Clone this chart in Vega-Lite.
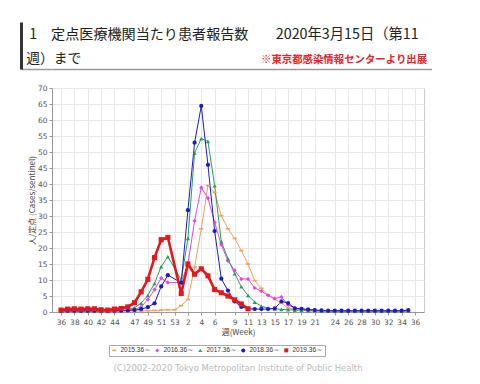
{
  "$schema": "https://vega.github.io/schema/vega-lite/v6.json",
  "background": "white",
  "padding": {"left": 20, "top": 22, "right": 0, "bottom": 0},
  "spacing": 19,
  "bounds": "flush",
  "config": {
    "font": "Noto Sans CJK JP",
    "view": {"stroke": null},
    "axis": {"labelFontSize": 7.5, "labelColor": "#555555", "labelFont": "DejaVu Sans", "labelOverlap": false, "labelFlush": false, "tickCount": 100, "tickColor": "#999999", "tickSize": 3, "domainColor": "#999999", "gridColor": "#e8e8e8", "titleFontSize": 8, "titleFontWeight": "normal", "titleColor": "#444444", "titleFont": "Noto Sans CJK JP"}
  },
  "vconcat": [
    {
      "width": 380,
      "height": 47,
      "view": {"stroke": null},
      "data": {"values": [{"header": 1}]},
      "layer": [
        {
          "mark": {"type": "text", "text": "1　定点医療機関当たり患者報告数", "align": "left", "baseline": "middle", "fontSize": 14.1, "color": "#222222"},
          "encoding": {
            "x": {"datum": -0.06, "type": "quantitative", "scale": {"domain": [0, 1], "nice": false, "zero": false}, "axis": {"domain": true, "domainColor": "#9a9a9a", "domainWidth": 1.5, "ticks": false, "labels": false, "grid": false, "title": null}},
            "y": {"datum": 0.72, "type": "quantitative", "scale": {"domain": [0, 1], "nice": false, "zero": false}, "axis": {"domain": true, "domainColor": "#333333", "domainWidth": 3, "offset": 31, "values": [0], "ticks": true, "tickSize": -31, "tickWidth": 1.5, "tickColor": "#9a9a9a", "labels": false, "grid": false, "title": null}}
          }
        },
        {
          "mark": {"type": "text", "text": "2020年3月15日（第11", "align": "left", "baseline": "middle", "fontSize": 14.3, "color": "#222222"},
          "encoding": {"x": {"datum": 0.589, "type": "quantitative"}, "y": {"datum": 0.72, "type": "quantitative"}}
        },
        {
          "mark": {"type": "text", "text": "週）まで", "align": "left", "baseline": "middle", "fontSize": 13.8, "color": "#222222"},
          "encoding": {"x": {"datum": -0.068, "type": "quantitative"}, "y": {"datum": 0.22, "type": "quantitative"}}
        },
        {
          "mark": {"type": "text", "text": "※東京都感染情報センターより出展", "align": "right", "baseline": "middle", "fontSize": 10.4, "fontWeight": "bold", "color": "#e8232b"},
          "encoding": {"x": {"datum": 0.987, "type": "quantitative"}, "y": {"datum": 0.2, "type": "quantitative"}}
        }
      ]
    },
    {
      "width": 372,
      "height": 224,
      "view": {"stroke": "#cccccc"},
      "title": {"text": "(C)2002-2020 Tokyo Metropolitan Institute of Public Health", "orient": "bottom", "anchor": "middle", "fontSize": 8.5, "fontWeight": "normal", "color": "#bbbbbb", "font": "DejaVu Sans", "offset": 27},
      "data": {"values": [
        {"season":"2015.36～","idx":0,"val":0.2},{"season":"2015.36～","idx":1,"val":0.2},{"season":"2015.36～","idx":2,"val":0.2},{"season":"2015.36～","idx":3,"val":0.2},{"season":"2015.36～","idx":4,"val":0.2},{"season":"2015.36～","idx":5,"val":0.2},{"season":"2015.36～","idx":6,"val":0.2},{"season":"2015.36～","idx":7,"val":0.3},{"season":"2015.36～","idx":8,"val":0.3},{"season":"2015.36～","idx":9,"val":0.3},{"season":"2015.36～","idx":10,"val":0.3},{"season":"2015.36～","idx":11,"val":0.3},{"season":"2015.36～","idx":12,"val":0.3},{"season":"2015.36～","idx":13,"val":0.4},{"season":"2015.36～","idx":14,"val":0.5},{"season":"2015.36～","idx":15,"val":0.6},{"season":"2015.36～","idx":16,"val":0.7},{"season":"2015.36～","idx":17,"val":0.7},{"season":"2015.36～","idx":18,"val":2.0},{"season":"2015.36～","idx":19,"val":3.9},{"season":"2015.36～","idx":20,"val":14.0},{"season":"2015.36～","idx":21,"val":26.0},{"season":"2015.36～","idx":22,"val":39.5},{"season":"2015.36～","idx":23,"val":37.4},{"season":"2015.36～","idx":24,"val":30.1},{"season":"2015.36～","idx":25,"val":26.0},{"season":"2015.36～","idx":26,"val":23.0},{"season":"2015.36～","idx":27,"val":19.2},{"season":"2015.36～","idx":28,"val":15.0},{"season":"2015.36～","idx":29,"val":9.8},{"season":"2015.36～","idx":30,"val":7.4},{"season":"2015.36～","idx":31,"val":5.4},{"season":"2015.36～","idx":32,"val":4.0},{"season":"2015.36～","idx":33,"val":2.8},{"season":"2015.36～","idx":34,"val":1.2},{"season":"2015.36～","idx":35,"val":0.7},{"season":"2015.36～","idx":36,"val":0.5},{"season":"2015.36～","idx":37,"val":0.4},{"season":"2015.36～","idx":38,"val":0.3},{"season":"2015.36～","idx":39,"val":0.3},{"season":"2015.36～","idx":40,"val":0.3},{"season":"2015.36～","idx":41,"val":0.2},{"season":"2015.36～","idx":42,"val":0.2},{"season":"2015.36～","idx":43,"val":0.2},{"season":"2015.36～","idx":44,"val":0.2},{"season":"2015.36～","idx":45,"val":0.2},{"season":"2015.36～","idx":46,"val":0.2},{"season":"2015.36～","idx":47,"val":0.2},{"season":"2015.36～","idx":48,"val":0.2},{"season":"2015.36～","idx":49,"val":0.1},{"season":"2015.36～","idx":50,"val":0.1},{"season":"2015.36～","idx":51,"val":0.1},{"season":"2015.36～","idx":52,"val":0.1},
        {"season":"2016.36～","idx":0,"val":0.3},{"season":"2016.36～","idx":1,"val":0.3},{"season":"2016.36～","idx":2,"val":0.3},{"season":"2016.36～","idx":3,"val":0.3},{"season":"2016.36～","idx":4,"val":0.3},{"season":"2016.36～","idx":5,"val":0.3},{"season":"2016.36～","idx":6,"val":0.3},{"season":"2016.36～","idx":7,"val":0.3},{"season":"2016.36～","idx":8,"val":0.3},{"season":"2016.36～","idx":9,"val":0.4},{"season":"2016.36～","idx":10,"val":0.5},{"season":"2016.36～","idx":11,"val":0.8},{"season":"2016.36～","idx":12,"val":1.6},{"season":"2016.36～","idx":13,"val":3.9},{"season":"2016.36～","idx":14,"val":7.0},{"season":"2016.36～","idx":15,"val":10.6},{"season":"2016.36～","idx":16,"val":9.2},{"season":"2016.36～","idx":18,"val":9.2},{"season":"2016.36～","idx":19,"val":15.0},{"season":"2016.36～","idx":20,"val":28.5},{"season":"2016.36～","idx":21,"val":38.9},{"season":"2016.36～","idx":22,"val":35.6},{"season":"2016.36～","idx":23,"val":28.0},{"season":"2016.36～","idx":24,"val":21.0},{"season":"2016.36～","idx":25,"val":16.0},{"season":"2016.36～","idx":26,"val":13.0},{"season":"2016.36～","idx":27,"val":10.3},{"season":"2016.36～","idx":28,"val":10.3},{"season":"2016.36～","idx":29,"val":7.5},{"season":"2016.36～","idx":30,"val":6.5},{"season":"2016.36～","idx":31,"val":5.2},{"season":"2016.36～","idx":32,"val":4.2},{"season":"2016.36～","idx":33,"val":4.7},{"season":"2016.36～","idx":34,"val":2.2},{"season":"2016.36～","idx":35,"val":1.3},{"season":"2016.36～","idx":36,"val":0.9},{"season":"2016.36～","idx":37,"val":0.6},{"season":"2016.36～","idx":38,"val":0.5},{"season":"2016.36～","idx":39,"val":0.4},{"season":"2016.36～","idx":40,"val":0.3},{"season":"2016.36～","idx":41,"val":0.3},{"season":"2016.36～","idx":42,"val":0.3},{"season":"2016.36～","idx":43,"val":0.3},{"season":"2016.36～","idx":44,"val":0.3},{"season":"2016.36～","idx":45,"val":0.3},{"season":"2016.36～","idx":46,"val":0.3},{"season":"2016.36～","idx":47,"val":0.3},{"season":"2016.36～","idx":48,"val":0.3},{"season":"2016.36～","idx":49,"val":0.3},{"season":"2016.36～","idx":50,"val":0.3},{"season":"2016.36～","idx":51,"val":0.3},{"season":"2016.36～","idx":52,"val":0.3},
        {"season":"2017.36～","idx":0,"val":0.3},{"season":"2017.36～","idx":1,"val":0.3},{"season":"2017.36～","idx":2,"val":0.3},{"season":"2017.36～","idx":3,"val":0.3},{"season":"2017.36～","idx":4,"val":0.3},{"season":"2017.36～","idx":5,"val":0.3},{"season":"2017.36～","idx":6,"val":0.3},{"season":"2017.36～","idx":7,"val":0.4},{"season":"2017.36～","idx":8,"val":0.4},{"season":"2017.36～","idx":9,"val":0.5},{"season":"2017.36～","idx":10,"val":0.7},{"season":"2017.36～","idx":11,"val":1.3},{"season":"2017.36～","idx":12,"val":2.8},{"season":"2017.36～","idx":13,"val":5.2},{"season":"2017.36～","idx":14,"val":8.9},{"season":"2017.36～","idx":15,"val":14.2},{"season":"2017.36～","idx":16,"val":17.3},{"season":"2017.36～","idx":18,"val":10.0},{"season":"2017.36～","idx":19,"val":23.0},{"season":"2017.36～","idx":20,"val":49.7},{"season":"2017.36～","idx":21,"val":54.2},{"season":"2017.36～","idx":22,"val":53.3},{"season":"2017.36～","idx":23,"val":39.5},{"season":"2017.36～","idx":24,"val":22.0},{"season":"2017.36～","idx":25,"val":16.6},{"season":"2017.36～","idx":26,"val":12.0},{"season":"2017.36～","idx":27,"val":7.9},{"season":"2017.36～","idx":28,"val":5.2},{"season":"2017.36～","idx":29,"val":3.1},{"season":"2017.36～","idx":30,"val":1.8},{"season":"2017.36～","idx":31,"val":1.2},{"season":"2017.36～","idx":32,"val":1.0},{"season":"2017.36～","idx":33,"val":0.8},{"season":"2017.36～","idx":34,"val":0.7},{"season":"2017.36～","idx":35,"val":0.6},{"season":"2017.36～","idx":36,"val":0.5},{"season":"2017.36～","idx":37,"val":0.4},{"season":"2017.36～","idx":38,"val":0.4},{"season":"2017.36～","idx":39,"val":0.3},{"season":"2017.36～","idx":40,"val":0.3},{"season":"2017.36～","idx":41,"val":0.3},{"season":"2017.36～","idx":42,"val":0.3},{"season":"2017.36～","idx":43,"val":0.3},{"season":"2017.36～","idx":44,"val":0.3},{"season":"2017.36～","idx":45,"val":0.3},{"season":"2017.36～","idx":46,"val":0.3},{"season":"2017.36～","idx":47,"val":0.3},{"season":"2017.36～","idx":48,"val":0.3},{"season":"2017.36～","idx":49,"val":0.3},{"season":"2017.36～","idx":50,"val":0.3},{"season":"2017.36～","idx":51,"val":0.3},{"season":"2017.36～","idx":52,"val":0.3},
        {"season":"2018.36～","idx":0,"val":0.4},{"season":"2018.36～","idx":1,"val":0.4},{"season":"2018.36～","idx":2,"val":0.4},{"season":"2018.36～","idx":3,"val":0.4},{"season":"2018.36～","idx":4,"val":0.4},{"season":"2018.36～","idx":5,"val":0.4},{"season":"2018.36～","idx":6,"val":0.4},{"season":"2018.36～","idx":7,"val":0.4},{"season":"2018.36～","idx":8,"val":0.4},{"season":"2018.36～","idx":9,"val":0.4},{"season":"2018.36～","idx":10,"val":0.5},{"season":"2018.36～","idx":11,"val":0.6},{"season":"2018.36～","idx":12,"val":0.9},{"season":"2018.36～","idx":13,"val":1.5},{"season":"2018.36～","idx":14,"val":2.7},{"season":"2018.36～","idx":15,"val":8.0},{"season":"2018.36～","idx":16,"val":11.5},{"season":"2018.36～","idx":18,"val":9.2},{"season":"2018.36～","idx":19,"val":31.8},{"season":"2018.36～","idx":20,"val":52.9},{"season":"2018.36～","idx":21,"val":64.4},{"season":"2018.36～","idx":22,"val":46.0},{"season":"2018.36～","idx":23,"val":25.3},{"season":"2018.36～","idx":24,"val":10.4},{"season":"2018.36～","idx":25,"val":6.7},{"season":"2018.36～","idx":26,"val":3.3},{"season":"2018.36～","idx":27,"val":1.6},{"season":"2018.36～","idx":28,"val":1.0},{"season":"2018.36～","idx":29,"val":0.9},{"season":"2018.36～","idx":30,"val":0.9},{"season":"2018.36～","idx":31,"val":0.9},{"season":"2018.36～","idx":32,"val":1.1},{"season":"2018.36～","idx":33,"val":3.3},{"season":"2018.36～","idx":34,"val":2.8},{"season":"2018.36～","idx":35,"val":1.1},{"season":"2018.36～","idx":36,"val":1.0},{"season":"2018.36～","idx":37,"val":0.8},{"season":"2018.36～","idx":38,"val":0.6},{"season":"2018.36～","idx":39,"val":0.5},{"season":"2018.36～","idx":40,"val":0.4},{"season":"2018.36～","idx":41,"val":0.4},{"season":"2018.36～","idx":42,"val":0.4},{"season":"2018.36～","idx":43,"val":0.4},{"season":"2018.36～","idx":44,"val":0.4},{"season":"2018.36～","idx":45,"val":0.4},{"season":"2018.36～","idx":46,"val":0.4},{"season":"2018.36～","idx":47,"val":0.4},{"season":"2018.36～","idx":48,"val":0.4},{"season":"2018.36～","idx":49,"val":0.4},{"season":"2018.36～","idx":50,"val":0.4},{"season":"2018.36～","idx":51,"val":0.4},{"season":"2018.36～","idx":52,"val":0.6},
        {"season":"2019.36～","idx":0,"val":0.6},{"season":"2019.36～","idx":1,"val":0.9},{"season":"2019.36～","idx":2,"val":1.0},{"season":"2019.36～","idx":3,"val":0.9},{"season":"2019.36～","idx":4,"val":1.0},{"season":"2019.36～","idx":5,"val":1.0},{"season":"2019.36～","idx":6,"val":0.7},{"season":"2019.36～","idx":7,"val":0.6},{"season":"2019.36～","idx":8,"val":0.9},{"season":"2019.36～","idx":9,"val":1.1},{"season":"2019.36～","idx":10,"val":1.6},{"season":"2019.36～","idx":11,"val":2.9},{"season":"2019.36～","idx":12,"val":6.3},{"season":"2019.36～","idx":13,"val":10.2},{"season":"2019.36～","idx":14,"val":17.0},{"season":"2019.36～","idx":15,"val":22.6},{"season":"2019.36～","idx":16,"val":23.3},{"season":"2019.36～","idx":18,"val":5.8},{"season":"2019.36～","idx":19,"val":15.0},{"season":"2019.36～","idx":20,"val":11.8},{"season":"2019.36～","idx":21,"val":13.5},{"season":"2019.36～","idx":22,"val":11.3},{"season":"2019.36～","idx":23,"val":7.0},{"season":"2019.36～","idx":24,"val":6.0},{"season":"2019.36～","idx":25,"val":5.0},{"season":"2019.36～","idx":26,"val":3.8},{"season":"2019.36～","idx":27,"val":2.5},{"season":"2019.36～","idx":28,"val":1.0}
      ]},
      "layer": [
        {
          "mark": {"type": "line"},
          "encoding": {
            "x": {"field": "idx", "type": "quantitative", "scale": {"domain": [-1.35, 54.35], "nice": false, "zero": false},
                  "axis": {"values": [0,2,4,6,8,11,13,15,17,19,21,23,26,28,30,32,34,36,38,41,43,45,47,49,51,53], "tickCount": 100, "labelExpr": "datum.value <= 17 ? datum.value + 36 : datum.value - 17", "title": "週(Week)", "grid": true, "labelPadding": 3, "titlePadding": 3}},
            "y": {"field": "val", "type": "quantitative", "scale": {"domain": [0, 70], "nice": false},
                  "axis": {"values": [0,5,10,15,20,25,30,35,40,45,50,55,60,65,70], "tickCount": 100, "format": "d", "title": "人/定点 (Cases/sentinel)", "grid": true, "titlePadding": 1}},
            "detail": {"field": "season", "type": "nominal"},
            "stroke": {"condition": [
              {"test": "datum.season == '2015.36～'", "value": "#f2a25a"},
              {"test": "datum.season == '2016.36～'", "value": "#e645e6"},
              {"test": "datum.season == '2017.36～'", "value": "#2e9c5e"},
              {"test": "datum.season == '2018.36～'", "value": "#1c1cc4"}
            ], "value": "#e4161e"},
            "strokeWidth": {"condition": {"test": "datum.season == '2019.36～'", "value": 2.6}, "value": 1}
          }
        },
        {
          "mark": {"type": "point", "filled": true, "opacity": 1},
          "encoding": {
            "x": {"field": "idx", "type": "quantitative"},
            "y": {"field": "val", "type": "quantitative"},
            "color": {"field": "season", "type": "nominal", "title": null, "scale": {"domain": ["2015.36～","2016.36～","2017.36～","2018.36～","2019.36～"], "range": ["#f2a25a","#e645e6","#2e9c5e","#1c1cc4","#e4161e"]},
                      "legend": {"orient": "none", "legendX": 57, "legendY": 323, "direction": "horizontal", "strokeColor": "#aaaaaa", "padding": 2, "labelFontSize": 6.5, "labelFont": "Liberation Sans", "labelColor": "#333333", "columnPadding": 3, "symbolSize": 16, "labelOffset": 3}},
            "shape": {"field": "season", "type": "nominal", "title": null, "scale": {"domain": ["2015.36～","2016.36～","2017.36～","2018.36～","2019.36～"], "range": ["M-1,-0.4L1,-0.4L1,0.4L-1,0.4Z","diamond","triangle-up","circle","square"]}},
            "size": {"condition": {"test": "datum.season == '2019.36～'", "value": 26}, "value": 18}
          }
        }
      ]
    }
  ]
}
